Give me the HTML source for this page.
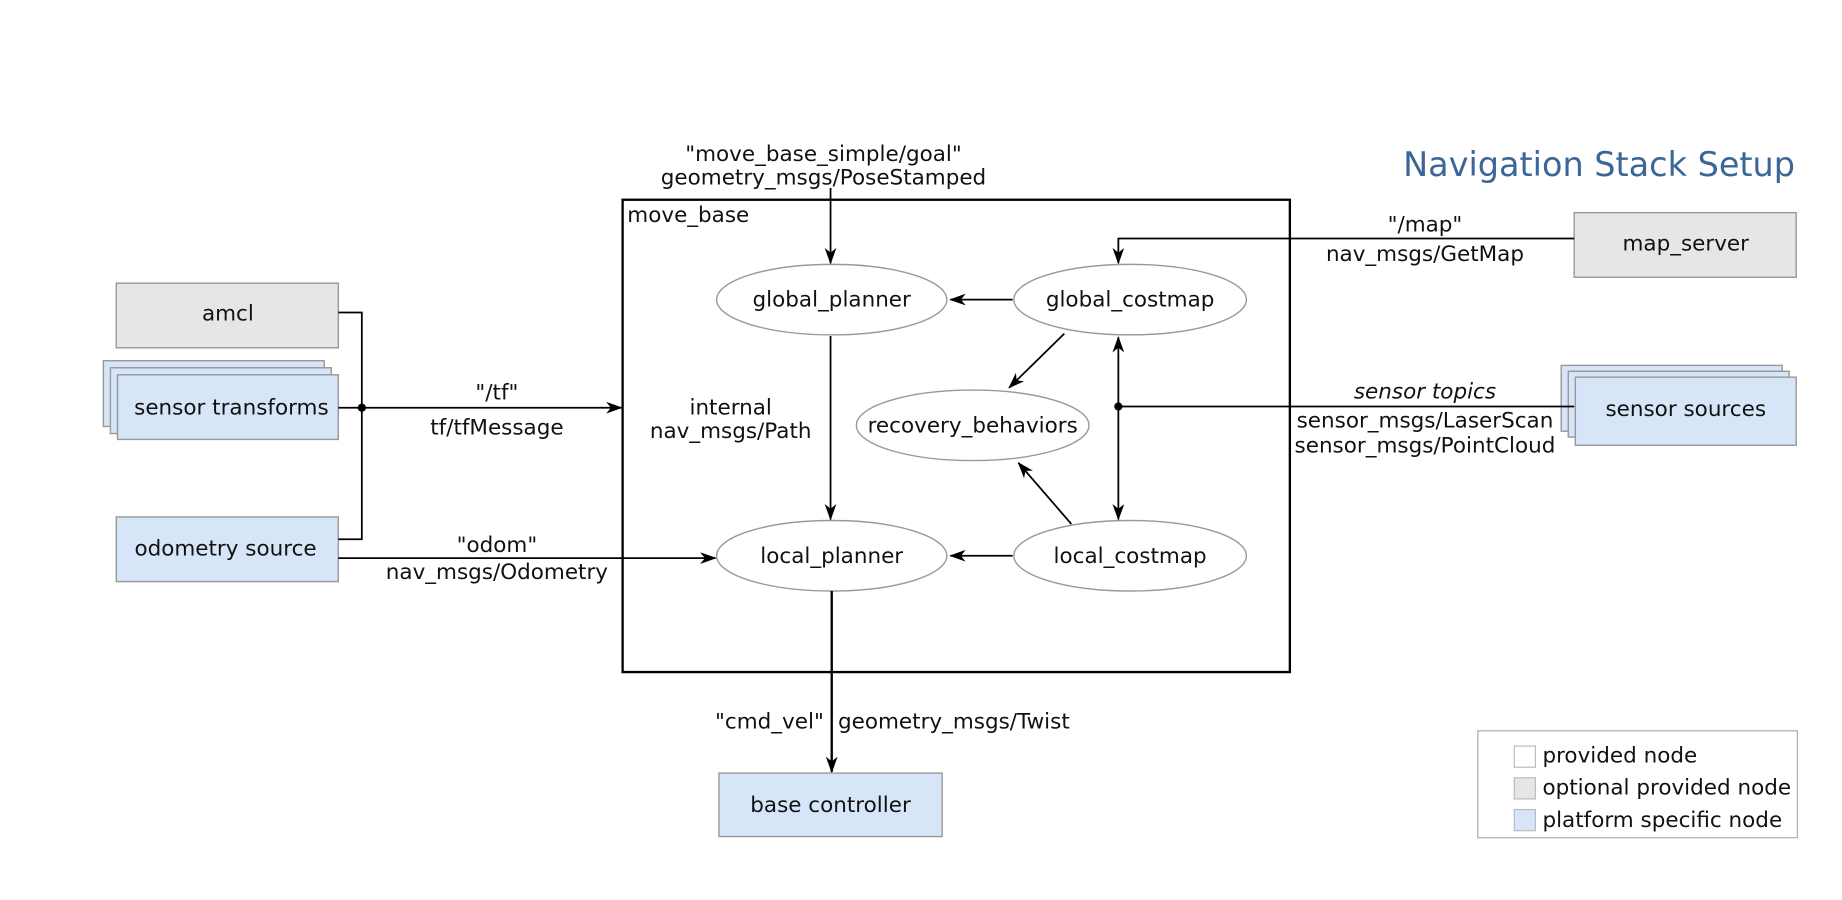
<!DOCTYPE html>
<html><head><meta charset="utf-8"><style>
html,body{margin:0;padding:0;background:#fff;width:1842px;height:900px;overflow:hidden}
text{font-family:"DejaVu Sans","Liberation Sans",sans-serif;font-size:18.3px;fill:#111}
</style></head><body>
<svg width="1842" height="900" viewBox="0 0 1568 766" preserveAspectRatio="none" xmlns="http://www.w3.org/2000/svg">
<defs>
<marker id="a" markerWidth="14" markerHeight="10" refX="13" refY="5" orient="auto" markerUnits="userSpaceOnUse">
<path d="M0,0 L14,5 L0,10 L4,5 Z" fill="#000"/></marker>
<marker id="as" markerWidth="14" markerHeight="10" refX="1" refY="5" orient="auto" markerUnits="userSpaceOnUse">
<path d="M14,0 L0,5 L14,10 L10,5 Z" fill="#000"/></marker>
</defs>
<text x="1528" y="150" text-anchor="end" style="font-size:28.5px;fill:#3a6698">Navigation Stack Setup</text>
<rect x="530" y="170" width="568" height="402" fill="none" stroke="#000" stroke-width="2"/>
<text x="534" y="189">move_base</text>
<g fill="#e6e6e6" stroke="#999" stroke-width="1.2">
<rect x="99" y="241" width="189" height="55"/>
<rect x="1340" y="181" width="189" height="55"/>
</g>
<g fill="#d6e6f8" stroke="#999" stroke-width="1.2">
<rect x="88" y="307" width="188" height="56"/>
<rect x="94" y="313" width="188" height="56"/>
<rect x="100" y="319" width="188" height="55"/>
<rect x="99" y="440" width="189" height="55"/>
<rect x="1329" y="311" width="188" height="56"/>
<rect x="1335" y="316" width="188" height="56"/>
<rect x="1341" y="321" width="188" height="58"/>
<rect x="612" y="658" width="190" height="54"/>
</g>
<g text-anchor="middle">
<text x="194" y="273">amcl</text>
<text x="197" y="353">sensor transforms</text>
<text x="192" y="473">odometry source</text>
<text x="1435" y="213">map_server</text>
<text x="1435" y="354">sensor sources</text>
<text x="707" y="691">base controller</text>
</g>
<g fill="#fff" stroke="#999" stroke-width="1.2">
<ellipse cx="708" cy="255" rx="98" ry="30"/>
<ellipse cx="962" cy="255" rx="99" ry="30"/>
<ellipse cx="828" cy="362" rx="99" ry="30"/>
<ellipse cx="708" cy="473" rx="98" ry="30"/>
<ellipse cx="962" cy="473" rx="99" ry="30"/>
</g>
<g text-anchor="middle">
<text x="708" y="261">global_planner</text>
<text x="962" y="261">global_costmap</text>
<text x="828" y="368">recovery_behaviors</text>
<text x="708" y="479">local_planner</text>
<text x="962" y="479">local_costmap</text>
</g>
<g stroke="#000" stroke-width="1.5" fill="none">
<polyline points="288,266 308,266 308,459 288,459"/>
<line x1="288" y1="347" x2="529" y2="347" marker-end="url(#a)"/>
<line x1="288" y1="475" x2="609" y2="475" marker-end="url(#a)"/>
<line x1="707" y1="160" x2="707" y2="224" marker-end="url(#a)"/>
<line x1="862" y1="255" x2="809" y2="255" marker-end="url(#a)"/>
<line x1="707" y1="286" x2="707" y2="442" marker-end="url(#a)"/>
<line x1="906" y1="284" x2="859" y2="330" marker-end="url(#a)"/>
<line x1="912" y1="446" x2="867" y2="394" marker-end="url(#a)"/>
<line x1="862" y1="473" x2="809" y2="473" marker-end="url(#a)"/>
<line x1="952" y1="287" x2="952" y2="442" marker-start="url(#as)" marker-end="url(#a)"/>
<line x1="952" y1="346" x2="1340" y2="346"/>
<polyline points="1340,203 952,203 952,224" marker-end="url(#a)"/>
<line x1="708" y1="503" x2="708" y2="657" stroke-width="2" marker-end="url(#a)"/>
</g>
<circle cx="308" cy="347" r="3.5"/>
<circle cx="952" cy="346" r="3.5"/>
<g text-anchor="middle">
<text x="423" y="340">"/tf"</text>
<text x="423" y="370">tf/tfMessage</text>
<text x="423" y="470">"odom"</text>
<text x="423" y="493">nav_msgs/Odometry</text>
<text x="701" y="137">"move_base_simple/goal"</text>
<text x="701" y="157">geometry_msgs/PoseStamped</text>
<text x="622" y="353">internal</text>
<text x="622" y="373">nav_msgs/Path</text>
<text x="1213" y="197">"/map"</text>
<text x="1213" y="222">nav_msgs/GetMap</text>
<text x="1213" y="339" font-style="italic">sensor topics</text>
<text x="1213" y="364">sensor_msgs/LaserScan</text>
<text x="1213" y="385">sensor_msgs/PointCloud</text>
<text x="655" y="620">"cmd_vel"</text>
<text x="812" y="620">geometry_msgs/Twist</text>
</g>
<rect x="1258" y="622" width="272" height="91" fill="#fff" stroke="#aaa" stroke-width="1"/>
<rect x="1289" y="635" width="18" height="18" fill="#fff" stroke="#bbb"/>
<rect x="1289" y="662" width="18" height="18" fill="#e6e6e6" stroke="#bbb"/>
<rect x="1289" y="689" width="18" height="18" fill="#d6e6f8" stroke="#bbb"/>
<text x="1313" y="649">provided node</text>
<text x="1313" y="676">optional provided node</text>
<text x="1313" y="704">platform specific node</text>
</svg>
</body></html>
